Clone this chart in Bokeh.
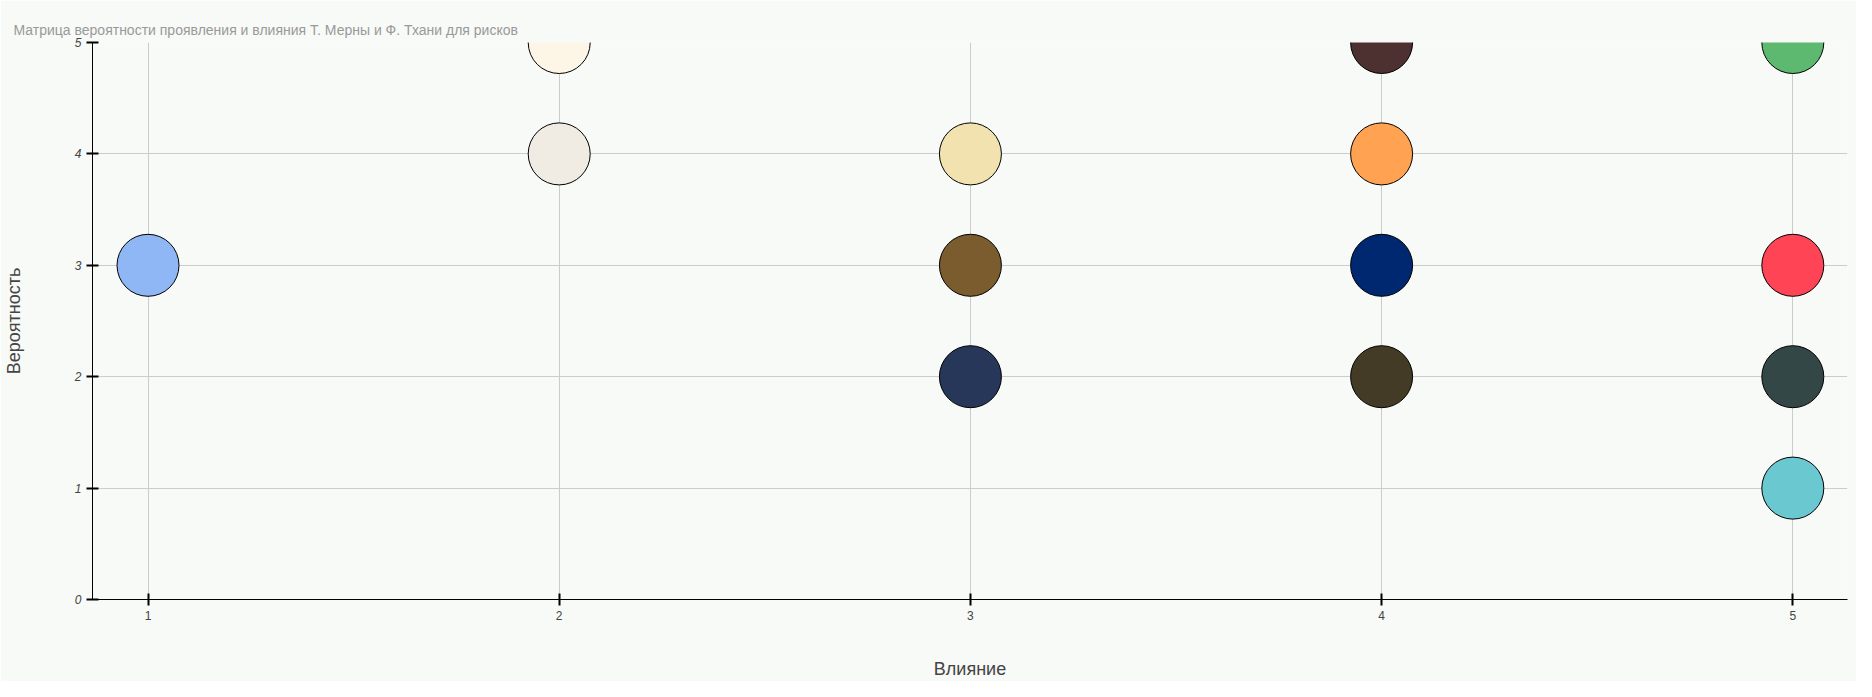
from bokeh.plotting import figure
from bokeh.models import ColumnDataSource, Range1d, FixedTicker
from bokeh.embed import file_html
from bokeh.resources import INLINE

impact = [1, 2, 2, 3, 3, 3, 4, 4, 4, 4, 5, 5, 5, 5]
probability = [3, 5, 4, 4, 3, 2, 5, 4, 3, 2, 5, 3, 2, 1]
colors = ["#8fb6f5", "#fdf5e6", "#f0ece4", "#f1e2b0", "#7a5c2e", "#263759", "#4d3030",
          "#ffa352", "#002870", "#433b26", "#5cb96f", "#ff4455", "#334746", "#6ac8d0"]

source = ColumnDataSource(dict(x=impact, y=probability, color=colors))

bg = "#f8faf7"
p = figure(width=1856, height=681, output_backend="svg", toolbar_location=None, tools="",
           x_range=Range1d(0.865, 5.133), y_range=Range1d(0, 5),
           min_border_left=81, min_border_right=9, min_border_top=42, min_border_bottom=69,
           background_fill_color=bg, border_fill_color=bg, outline_line_color=None,
           title="Матрица вероятности проявления и влияния Т. Мерны и Ф. Тхани для рисков")
p.title.text_color = "#999999"
p.title.text_font_style = "normal"
p.title.text_font_size = "14px"
p.title.text_font = "Liberation Sans"
p.title.offset = -79

p.scatter("x", "y", source=source, size=62, fill_color="color", fill_alpha=1,
          line_color="black", line_width=1)

for ax in (p.xaxis[0], p.yaxis[0]):
    ax.major_tick_in = 6
    ax.major_tick_out = 6
    ax.major_tick_line_width = 2
    ax.minor_tick_line_color = None
    ax.axis_line_color = "black"
    ax.major_label_text_font_size = "12px"
    ax.major_label_text_font = "Liberation Sans"
    ax.axis_label_text_font_style = "normal"
    ax.axis_label_text_font_size = "18px"
    ax.axis_label_text_font = "Liberation Sans"
p.xaxis.ticker = FixedTicker(ticks=[1, 2, 3, 4, 5])
p.yaxis.ticker = FixedTicker(ticks=[0, 1, 2, 3, 4, 5])
p.yaxis.major_label_text_font_style = "italic"
p.xaxis.axis_label = "Влияние"
p.yaxis.axis_label = "Вероятность"
p.xaxis.axis_label_standoff = 36
p.yaxis.axis_label_standoff = 48
p.grid.grid_line_color = "#cccccc"

open("out.html", "w").write(file_html(p, INLINE))
